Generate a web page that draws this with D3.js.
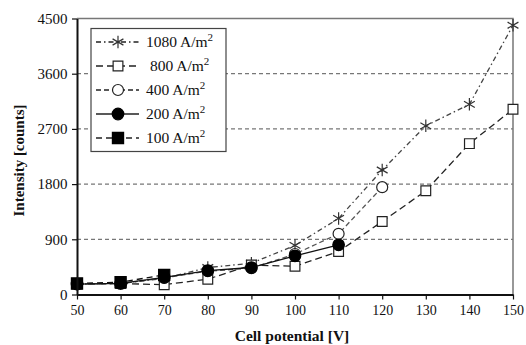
<!DOCTYPE html>
<html><head><meta charset="utf-8">
<script src="https://cdn.jsdelivr.net/npm/d3@7"></script>
<style>body{margin:0;background:#fff}svg{display:block}text{font-family:"Liberation Serif","Times New Roman",serif;fill:#111}</style>
</head><body><svg id="c" width="526" height="345"></svg>
<script>
const volts = [50, 60, 70, 80, 90, 100, 110, 120, 130, 140, 150];
const s1080 = [170, 180, 260, 440, 510, 800, 1240, 2030, 2750, 3100, 4390];
const s800 = [170, 180, 160, 250, 480, 460, 700, 1190, 1690, 2460, 3020];
const s400 = [170, 180, 270, 380, 430, 660, 990, 1750];
const s200 = [170, 180, 280, 390, 440, 630, 810];
const s100 = [180, 200, 320];
const yTicks = [0, 900, 1800, 2700, 3600, 4500];
const xTicks = [50, 60, 70, 80, 90, 100, 110, 120, 130, 140, 150];
const labels = ["1080", "800", "400", "200", "100"];

const svg = d3.select("#c");
const x = d3.scaleLinear().domain([50, 150]).range([77, 513]);
const y = d3.scaleLinear().domain([0, 4500]).range([294.5, 18.5]);

// grid
svg.append("g").selectAll("line").data(yTicks.filter(d => d > 0 && d < 4500)).join("line")
  .attr("x1", x(50)).attr("x2", x(150)).attr("y1", d => y(d)).attr("y2", d => y(d))
  .attr("stroke", "#777").attr("stroke-width", 1.2).attr("stroke-dasharray", "4,3");
// top/right border
svg.append("path").attr("d", `M${x(50)},${y(4500)}H${x(150)}V${y(0)}`)
  .attr("fill", "none").attr("stroke", "#777").attr("stroke-width", 1.5);

const series = [
  {v: s1080, dash: "5,3,1.5,3", color: "#444", sym: d3.symbolAsterisk, size: 110, fill: "none", stroke: "#333"},
  {v: s800, dash: "7,4", color: "#222", sym: d3.symbolSquare, size: 95, fill: "#fff", stroke: "#222"},
  {v: s400, dash: "5,3", color: "#555", sym: d3.symbolCircle, size: 95, fill: "#fff", stroke: "#222"},
  {v: s200, dash: null, color: "#111", sym: d3.symbolCircle, size: 105, fill: "#000", stroke: "#000"},
  {v: s100, dash: "6,4", color: "#111", sym: d3.symbolSquare, size: 125, fill: "#000", stroke: "#000"}
];

const line = d3.line().x((d, i) => x(volts[i])).y(d => y(d));
series.forEach(s => {
  svg.append("path").attr("d", line(s.v)).attr("fill", "none")
    .attr("stroke", s.color).attr("stroke-width", 1.3)
    .attr("stroke-dasharray", s.dash);
  svg.append("g").selectAll("path").data(s.v).join("path")
    .attr("transform", (d, i) => `translate(${x(volts[i])},${y(d)})`)
    .attr("d", d3.symbol(s.sym, s.size)).attr("fill", s.fill)
    .attr("stroke", s.stroke).attr("stroke-width", 1.2);
});

// axes
const xa = svg.append("g").attr("transform", `translate(0,${y(0)})`)
  .call(d3.axisBottom(x).tickValues(xTicks).tickFormat(d3.format("d")).tickSize(5).tickSizeOuter(0));
const ya = svg.append("g").attr("transform", `translate(${x(50)},0)`)
  .call(d3.axisLeft(y).tickValues(yTicks).tickFormat(d3.format("d")).tickSize(5).tickSizeOuter(0));
[xa, ya].forEach(a => {
  a.select(".domain").attr("stroke", "#111").attr("stroke-width", 2);
  a.selectAll(".tick line").attr("stroke", "#111").attr("stroke-width", 1.2);
  a.selectAll("text").attr("fill", "#111");
});
xa.selectAll("text").attr("font-size", 14).attr("dy", "0.9em");
ya.selectAll("text").attr("font-size", 15).attr("dx", "-0.1em");

svg.append("text").attr("x", (x(50) + x(150)) / 2 - 3).attr("y", 341).attr("text-anchor", "middle")
  .attr("font-size", 15.5).attr("font-weight", "bold").text("Cell potential [V]");
svg.append("text").attr("transform", `translate(23.5,${(y(0) + y(4500)) / 2 + 4}) rotate(-90)`)
  .attr("text-anchor", "middle").attr("font-size", 15).attr("font-weight", "bold").text("Intensity [counts]");

// legend
const lg = svg.append("g");
lg.append("rect").attr("x", 91).attr("y", 28.5).attr("width", 135).attr("height", 123)
  .attr("fill", "#fff").attr("stroke", "#444").attr("stroke-width", 1.2);
series.forEach((s, i) => {
  const yy = 42 + i * 24;
  lg.append("line").attr("x1", 96).attr("x2", 139).attr("y1", yy).attr("y2", yy)
    .attr("stroke", "#222").attr("stroke-width", 1.4).attr("stroke-dasharray", s.dash);
  lg.append("path").attr("transform", `translate(118,${yy})`).attr("d", d3.symbol(s.sym, s.size))
    .attr("fill", s.fill).attr("stroke", s.stroke).attr("stroke-width", 1.2);
  const t = lg.append("text").attr("x", i === 1 ? 150 : 146).attr("y", yy + 5).attr("font-size", 15.5);
  t.append("tspan").text(labels[i] + " A/m");
  t.append("tspan").attr("font-size", 11).attr("dy", -6).text("2");
});
</script></body></html>
